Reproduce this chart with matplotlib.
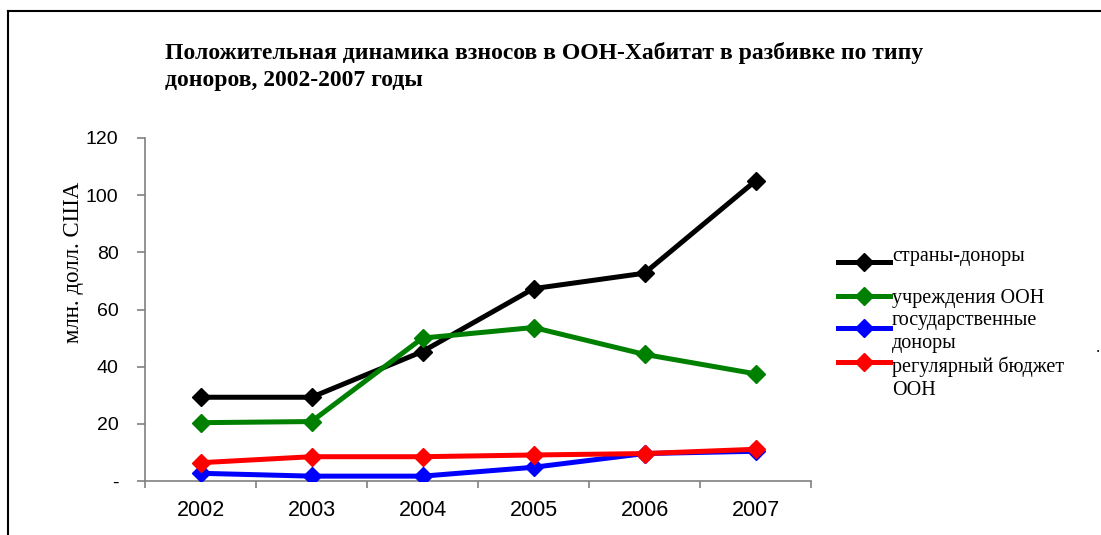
import matplotlib
matplotlib.use("Agg")
import matplotlib.pyplot as plt
from matplotlib.lines import Line2D

years = ["2002", "2003", "2004", "2005", "2006", "2007"]
donor_countries = [29.3, 29.3, 45.3, 67.3, 72.7, 105.0]
un_agencies = [20.4, 20.8, 50.0, 53.7, 44.3, 37.5]
gov_donors = [2.7, 1.7, 1.7, 4.8, 9.6, 10.4]
un_regular = [6.4, 8.5, 8.5, 9.1, 9.6, 11.1]

series_labels = ["страны-доноры", "учреждения ООН", "государственные\nдоноры", "регулярный бюджет\nООН"]
series_colors = ["black", "green", "blue", "red"]
y_ticks = [0, 20, 40, 60, 80, 100, 120]
y_ticklabels = ["-", "20", "40", "60", "80", "100", "120"]

title = "Положительная динамика взносов в ООН-Хабитат в разбивке по типу\nдоноров, 2002-2007 годы"
ylabel = "млн. долл. США"

W, H = 1101, 535
fig = plt.figure(figsize=(W / 100, H / 100), dpi=100)
ax = fig.add_axes([145 / W, 1 - 481 / H, (811 - 145) / W, (481 - 138) / H])

x = list(range(len(years)))
data = [donor_countries, un_agencies, gov_donors, un_regular]
for i in range(4):
    ax.plot(x, data[i], color=series_colors[i], lw=3.6, marker="D", markersize=9,
            solid_joinstyle="miter", zorder=3 + (1 if i == 3 else 0))

ax.set_xlim(-0.5, len(years) - 0.5)
ax.set_ylim(0, 120)
ax.set_yticks(y_ticks)
ax.set_yticklabels(y_ticklabels, fontfamily="Liberation Sans", fontsize=14)
ax.set_xticks(x)
ax.set_xticklabels(years, fontfamily="Liberation Sans", fontsize=15.5)
ax.set_xticks([i - 0.5 for i in range(len(years) + 1)], minor=True)
ax.tick_params(axis="x", which="major", length=0, pad=14)
ax.tick_params(axis="x", which="minor", length=5, color="#808080", width=1.2, direction="out")
ax.tick_params(axis="y", length=6, color="#808080", width=1.2, direction="out", pad=13)
for s in ["top", "right"]:
    ax.spines[s].set_visible(False)
for s in ["left", "bottom"]:
    ax.spines[s].set_color("#808080")
    ax.spines[s].set_linewidth(1.2)

fig.text(165 / W, 1 - 42 / H, title, fontfamily="Liberation Serif", fontweight="bold",
         fontsize=17, va="top", ha="left", linespacing=1.35)
fig.text(73 / W, 1 - 262 / H, ylabel, fontfamily="Liberation Serif", fontsize=16.5,
         rotation=90, ha="center", va="center")

# legend (manual)
leg_line_y = [262, 296, 328, 362]
leg_text_y = [256, 299, 332, 378]
for i in range(4):
    yy = 1 - leg_line_y[i] / H
    fig.add_artist(Line2D([838 / W, 890 / W], [yy, yy], color=series_colors[i], lw=3.6,
                          transform=fig.transFigure))
    fig.add_artist(Line2D([864 / W], [yy], color=series_colors[i], marker="D", markersize=9,
                          transform=fig.transFigure))
    fig.text(892 / W, 1 - leg_text_y[i] / H, series_labels[i], fontfamily="Liberation Serif",
             fontsize=14.5, ha="left", va="center", linespacing=1.3)
fig.text(1098 / W, 1 - 348 / H, ".", fontfamily="Liberation Serif", fontsize=12, ha="center", va="center")

# outer frame
fig.add_artist(Line2D([8 / W, 1.0], [1 - 11 / H, 1 - 11 / H], color="black", lw=1.5, transform=fig.transFigure))
fig.add_artist(Line2D([8 / W, 8 / W], [0, 1 - 11 / H], color="black", lw=1.5, transform=fig.transFigure))

fig.savefig("out.png", dpi=100)
